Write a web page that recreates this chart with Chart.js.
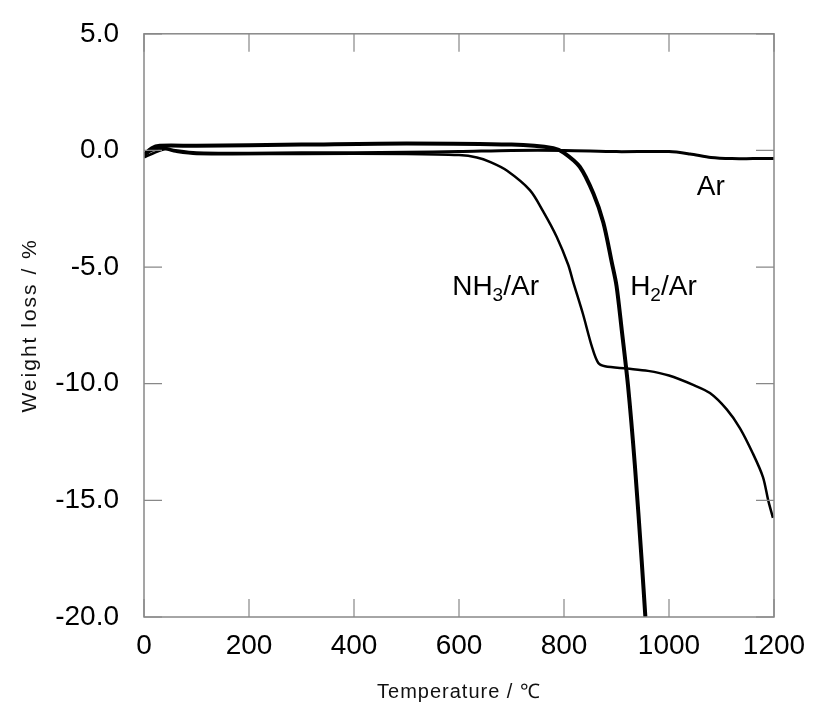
<!DOCTYPE html>
<html>
<head>
<meta charset="utf-8">
<script src="https://cdn.jsdelivr.net/npm/chart.js@4"></script>
<style>
  html, body { margin: 0; padding: 0; background: #fff; }
  #wrap { width: 813px; height: 711px; }
</style>
</head>
<body>
<div id="wrap"><canvas id="tga"></canvas></div>
<script>
// 数据 (温度 ℃, 重量损失 %)
const arTemp = [0, 15, 35, 60, 100, 200, 300, 400, 500, 600, 700, 800, 900, 1000, 1040, 1080, 1120, 1160, 1200];
const arLoss = [-0.2, 0.0, 0.1, 0.0, -0.1, -0.12, -0.1, -0.1, -0.08, -0.05, 0.0, 0.0, -0.05, -0.05, -0.15, -0.3, -0.35, -0.35, -0.35];

const h2Temp = [0, 15, 30, 100, 300, 500, 700, 780, 800, 830, 856, 875, 891, 900, 910, 922, 935, 948, 955];
const h2Loss = [-0.2, 0.1, 0.2, 0.2, 0.25, 0.3, 0.25, 0.1, -0.1, -0.7, -1.85, -3.1, -4.8, -5.8, -7.7, -10.1, -13.5, -17.6, -20];

const nh3Temp = [0, 20, 40, 60, 100, 300, 500, 600, 634, 660, 691, 735, 760, 786, 808, 817, 836, 853, 865, 878, 920, 960, 1000, 1046, 1078, 1110, 1135, 1160, 1179, 1189, 1198];
const nh3Loss = [-0.3, -0.1, 0.05, -0.05, -0.15, -0.15, -0.15, -0.2, -0.3, -0.5, -0.86, -1.7, -2.6, -3.7, -4.9, -5.6, -7.0, -8.4, -9.1, -9.25, -9.35, -9.45, -9.65, -10.05, -10.4, -11.1, -11.9, -13.0, -14.0, -15.0, -15.75];

const xTicks = [0, 200, 400, 600, 800, 1000, 1200];
const yTicks = [5, 0, -5, -10, -15, -20];

const xTitle = "Temperature / ℃";
const yTitle = "Weight loss / %";

// 曲线标注 (数据坐标)
const curveLabels = [
  { x: 1053, y: -1.6, main: "Ar", sub: "", rest: "" },
  { x: 587, y: -5.85, main: "NH", sub: "3", rest: "/Ar" },
  { x: 926, y: -5.85, main: "H", sub: "2", rest: "/Ar" },
];

const toXY = (xs, ys) => xs.map((x, i) => ({ x: x, y: ys[i] }));

const FONT = "'Liberation Sans', Arial, sans-serif";

// 框线、内向刻度、标题与标注
const framePlugin = {
  id: "frame",
  afterDraw(chart) {
    const { ctx, chartArea: a, scales } = chart;
    const len = 18;
    ctx.save();
    ctx.strokeStyle = "#888";
    ctx.lineWidth = 1.5;
    ctx.strokeRect(a.left, a.top, a.right - a.left, a.bottom - a.top);
    ctx.lineWidth = 1.2;
    ctx.beginPath();
    xTicks.forEach((v) => {
      const px = scales.x.getPixelForValue(v);
      ctx.moveTo(px, a.bottom); ctx.lineTo(px, a.bottom - len);
      ctx.moveTo(px, a.top); ctx.lineTo(px, a.top + len);
    });
    yTicks.forEach((v) => {
      const py = scales.y.getPixelForValue(v);
      ctx.moveTo(a.left, py); ctx.lineTo(a.left + len, py);
      ctx.moveTo(a.right, py); ctx.lineTo(a.right - len, py);
    });
    ctx.stroke();

    // 轴标题
    ctx.fillStyle = "#111";
    ctx.textAlign = "center";
    ctx.textBaseline = "middle";
    ctx.font = "20px " + FONT;
    ctx.letterSpacing = "1px";
    ctx.fillText(xTitle, (a.left + a.right) / 2, 692);
    ctx.save();
    ctx.translate(30, (a.top + a.bottom) / 2);
    ctx.rotate(-Math.PI / 2);
    ctx.font = "21px " + FONT;
    ctx.letterSpacing = "2px";
    ctx.fillText(yTitle, 0, 0);
    ctx.restore();
    ctx.letterSpacing = "0px";

    // 标注文字
    ctx.fillStyle = "#000";
    ctx.textAlign = "left";
    curveLabels.forEach((lb) => {
      let px = scales.x.getPixelForValue(lb.x);
      const py = scales.y.getPixelForValue(lb.y);
      ctx.font = "28px " + FONT;
      ctx.fillText(lb.main, px, py);
      px += ctx.measureText(lb.main).width;
      if (lb.sub) {
        ctx.font = "19px " + FONT;
        ctx.fillText(lb.sub, px, py + 9);
        px += ctx.measureText(lb.sub).width;
      }
      if (lb.rest) {
        ctx.font = "28px " + FONT;
        ctx.fillText(lb.rest, px, py);
      }
    });
    ctx.restore();
  },
};

document.addEventListener("DOMContentLoaded", function () {
  const ctx = document.getElementById("tga").getContext("2d");
  new Chart(ctx, {
    type: "scatter",
    data: {
      datasets: [
        { label: "Ar", data: toXY(arTemp, arLoss), showLine: true, borderColor: "#000", borderWidth: 3, pointRadius: 0, tension: 0.3 },
        { label: "NH3/Ar", data: toXY(nh3Temp, nh3Loss), showLine: true, borderColor: "#000", borderWidth: 2.5, pointRadius: 0, tension: 0.3 },
        { label: "H2/Ar", data: toXY(h2Temp, h2Loss), showLine: true, borderColor: "#000", borderWidth: 4, pointRadius: 0, tension: 0.3 },
      ],
    },
    options: {
      responsive: true,
      maintainAspectRatio: false,
      animation: false,
      clip: 0,
      layout: { padding: { left: 0, top: 33, right: 39, bottom: 0 } },
      plugins: { legend: { display: false }, tooltip: { enabled: false } },
      scales: {
        x: {
          type: "linear",
          min: 0,
          max: 1200,
          afterFit(scale) { scale.height = 94; },
          afterBuildTicks(scale) { scale.ticks = xTicks.map((v) => ({ value: v })); },
          grid: { display: false },
          border: { display: false },
          ticks: { color: "#000", font: { family: FONT, size: 28 }, padding: 4, maxRotation: 0, callback: (v) => String(v) },
        },
        y: {
          min: -20,
          max: 5,
          afterFit(scale) { scale.width = 144; },
          afterBuildTicks(scale) { scale.ticks = yTicks.map((v) => ({ value: v })); },
          grid: { display: false },
          border: { display: false },
          ticks: { color: "#000", font: { family: FONT, size: 28 }, padding: 17, callback: (v) => v.toFixed(1) },
        },
      },
    },
    plugins: [framePlugin],
  });
});
</script>
</body>
</html>
